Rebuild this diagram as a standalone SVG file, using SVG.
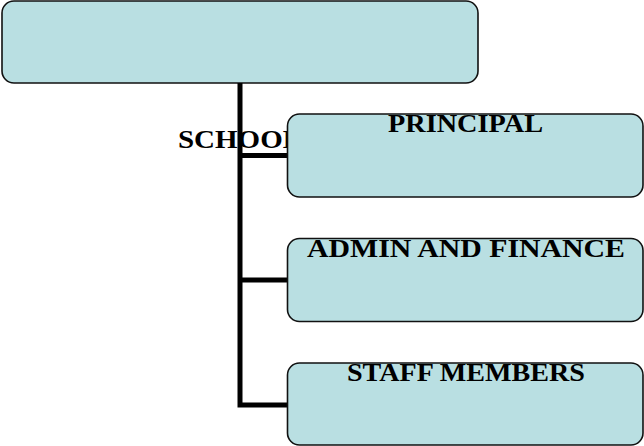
<svg xmlns="http://www.w3.org/2000/svg" width="644" height="446" viewBox="0 0 644 446">
  <style>
    .box { fill: #b9dfe2; stroke: #111; stroke-width: 1.6; }
    .lbl { font-family: "Liberation Serif", "DejaVu Serif", serif; font-weight: bold; font-size: 26px; fill: #000; text-anchor: middle; }
    .conn { fill: none; stroke: #000; stroke-width: 5; }
  </style>
  <rect width="644" height="446" fill="#fff"/>

  <g id="school">
    <rect class="box" x="2" y="1" width="476" height="82" rx="12"/>
    <text class="lbl" x="240" y="148" textLength="124" lengthAdjust="spacingAndGlyphs">SCHOOL</text>
  </g>

  <g id="connectors">
    <path class="conn" d="M240 83 V405 H290"/>
    <path class="conn" d="M240 155.5 H290"/>
    <path class="conn" d="M240 280 H290"/>
  </g>

  <g id="principal">
    <rect class="box" x="287.5" y="114" width="355.5" height="83" rx="12"/>
    <text class="lbl" x="465.5" y="132" textLength="155" lengthAdjust="spacingAndGlyphs">PRINCIPAL</text>
  </g>

  <g id="admin-finance">
    <rect class="box" x="287.5" y="238.5" width="355.5" height="83" rx="12"/>
    <text class="lbl" x="466" y="257" textLength="318" lengthAdjust="spacingAndGlyphs">ADMIN AND FINANCE</text>
  </g>

  <g id="staff-members">
    <rect class="box" x="287.5" y="363" width="355.5" height="82" rx="12"/>
    <text class="lbl" x="466" y="381" textLength="238" lengthAdjust="spacingAndGlyphs">STAFF MEMBERS</text>
  </g>
</svg>
